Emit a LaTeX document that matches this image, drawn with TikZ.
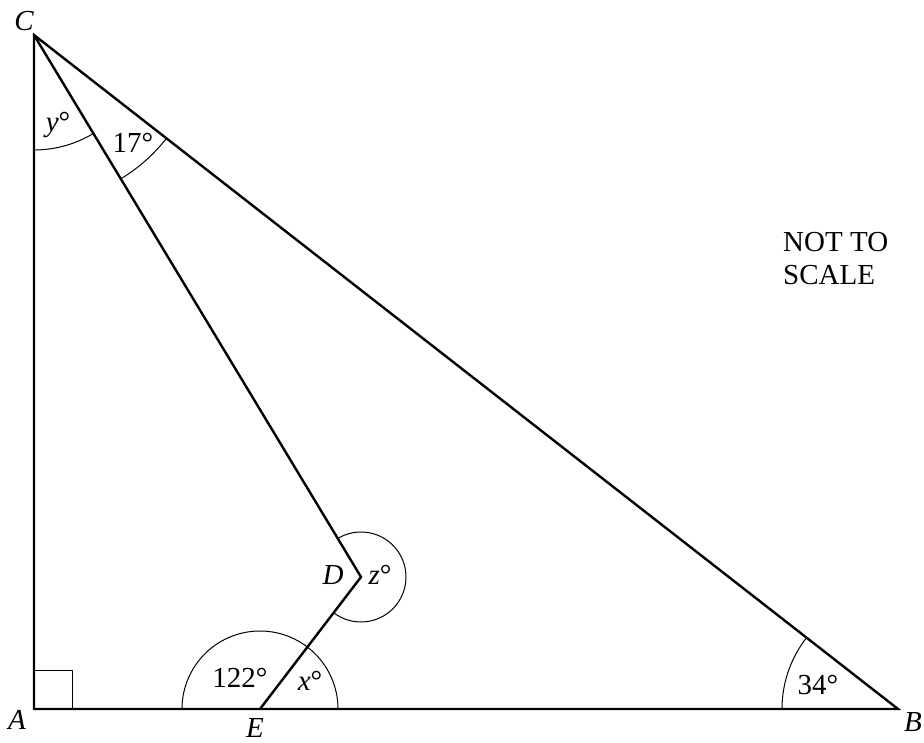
\documentclass[tikz,border=0pt]{standalone}
\usepackage{fontspec}
\setmainfont{Liberation Serif}
\usetikzlibrary{angles,calc}
\begin{document}
\begin{tikzpicture}[x=1pt,y=1pt,
  edge/.style={line width=2.4pt, line join=miter, line cap=butt},
  thin arc/.style={draw, line width=1pt},
  lbl/.style={font=\fontsize{29}{33}\selectfont, inner sep=0pt},
  vlbl/.style={lbl, font=\fontsize{29}{33}\selectfont\itshape},
]
\useasboundingbox (0,0) rectangle (924,742);
\coordinate (A) at (34,33);
\coordinate (B) at (898,33);
\coordinate (C) at (34,707);
\coordinate (D) at (361,165);
\coordinate (E) at (260,33);

% angle arcs
\pic[thin arc, angle radius=115] {angle = A--C--D};
\pic[thin arc, angle radius=168] {angle = D--C--B};
\pic[thin arc, angle radius=116] {angle = C--B--A};
\pic[thin arc, angle radius=78] {angle = D--E--A};
\pic[thin arc, angle radius=78] {angle = B--E--D};
\pic[thin arc, angle radius=45] {angle = E--D--C};

% right angle mark
\draw[line width=1pt] ($(A)+(38,0)$) -- ++(0,38) -- ++(-38,0);

% main figure
\draw[edge] (B) -- (A) -- (C) -- cycle;
\draw[edge] (C) -- (D) -- (E);

% vertex labels
\node[vlbl] (lC) at (24,721) {C};
\node[vlbl] (lA) at (17,22) {A};
\node[vlbl] (lB) at (913,20) {B};
\node[vlbl] (lE) at (255,14) {E};
\node[vlbl] (lD) at (333,167) {D};

% angle labels
\node[lbl] (lz) at (380,167) {\textit{z}°};
\node[lbl] (ly) at (58,617) {\textit{y}°};
\node[lbl] (l17) at (133,599) {17°};
\node[lbl] (l34) at (818,57) {34°};
\node[lbl] (l122) at (240,64) {122°};
\node[lbl] (lx) at (310,61) {\textit{x}°};

\node[lbl, align=left, anchor=north west] (note) at (783,510) {NOT TO\\SCALE};
\end{tikzpicture}
\end{document}
